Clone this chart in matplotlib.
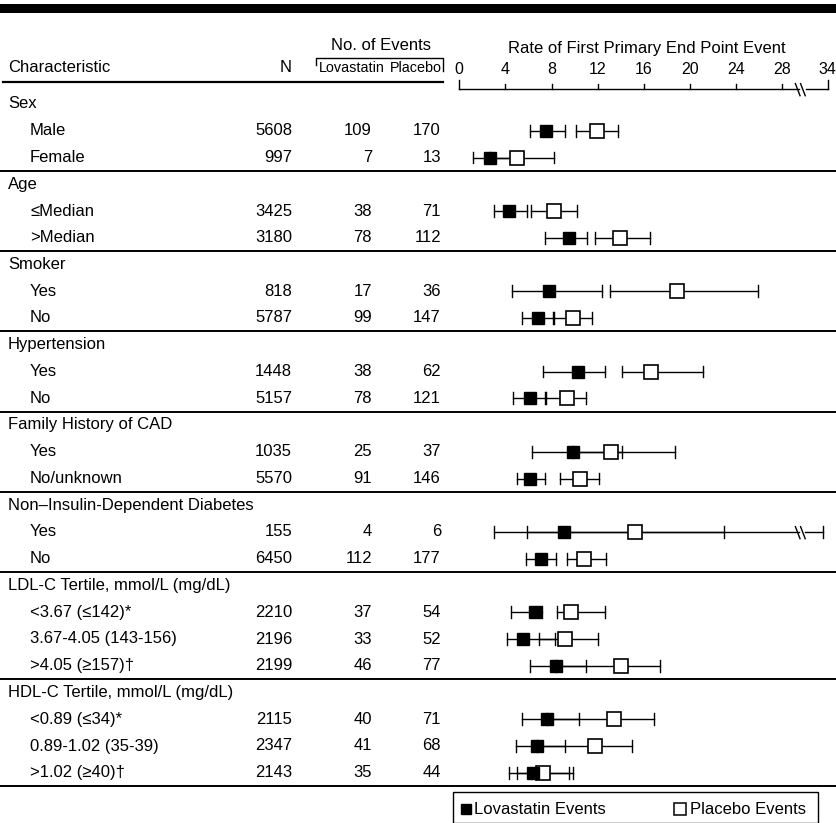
import numpy as np
import matplotlib
matplotlib.use('Agg')
import matplotlib.pyplot as plt
from matplotlib.patches import Rectangle

plt.rcParams['font.family'] = ['Liberation Sans', 'DejaVu Sans']

# Subgroup table: header rows have no numbers
groups = ['Sex', 'Age', 'Smoker', 'Hypertension', 'Family History of CAD',
          'Non\u2013Insulin-Dependent Diabetes',
          'LDL-C Tertile, mmol/L (mg/dL)', 'HDL-C Tertile, mmol/L (mg/dL)']
sublabels = [['Male', 'Female'],
             ['\u2264Median', '>Median'],
             ['Yes', 'No'],
             ['Yes', 'No'],
             ['Yes', 'No/unknown'],
             ['Yes', 'No'],
             ['<3.67 (\u2264142)*', '3.67-4.05 (143-156)', '>4.05 (\u2265157)\u2020'],
             ['<0.89 (\u226434)*', '0.89-1.02 (35-39)', '>1.02 (\u226540)\u2020']]
n_pts = [5608, 997, 3425, 3180, 818, 5787, 1448, 5157, 1035, 5570, 155, 6450,
         2210, 2196, 2199, 2115, 2347, 2143]
lov_events = [109, 7, 38, 78, 17, 99, 38, 78, 25, 91, 4, 112, 37, 33, 46, 40, 41, 35]
pla_events = [170, 13, 71, 112, 36, 147, 62, 121, 37, 146, 6, 177, 54, 52, 77, 71, 68, 44]

# event rates with lower / upper limits
lov_rate = [7.5, 2.7, 4.3, 9.5, 7.8, 6.8, 10.3, 6.1, 9.9, 6.1, 9.1, 7.1, 6.6, 5.5, 8.4, 7.6, 6.7, 6.4]
lov_lo = [6.1, 1.2, 3.0, 7.4, 4.6, 5.4, 7.3, 4.7, 6.3, 5.0, 3.0, 5.8, 4.5, 4.1, 6.1, 5.4, 4.9, 4.3]
lov_hi = [9.2, 5.5, 5.9, 11.1, 12.4, 8.2, 12.6, 7.5, 14.1, 7.4, 23.0, 8.4, 7.2, 8.3, 11.0, 10.4, 9.2, 9.5]
pla_rate = [11.9, 5.0, 8.2, 13.9, 18.9, 9.9, 16.6, 9.3, 13.2, 10.5, 15.2, 10.8, 9.7, 9.2, 14.0, 13.4, 11.8, 7.3]
pla_lo = [10.1, 2.7, 6.2, 11.8, 13.1, 8.1, 14.1, 7.4, 9.9, 8.7, 5.9, 9.3, 8.5, 6.9, 8.4, 7.6, 6.7, 5.0]
pla_hi = [13.8, 8.2, 10.2, 16.5, 25.9, 11.5, 21.1, 11.0, 18.7, 12.1, 33.2, 12.7, 12.6, 12.0, 17.4, 16.9, 15.0, 9.9]

ticks = [0, 4, 8, 12, 16, 20, 24, 28, 34]
brk = 29.7        # axis break position
squeeze = 0.526   # scale beyond the break


def xpos(v):
    v = np.asarray(v, dtype=float)
    return np.where(v <= brk, v, brk + (v - brk) * squeeze)


W, H = 836, 823
row0, drow = 104.0, 26.75


def yrow(py):
    return (py - row0) / drow


fig = plt.figure(figsize=(W / 100, H / 100), dpi=100)
tab = fig.add_axes([0, 0, 1, 1])
tab.set_xlim(0, W)
tab.set_ylim(yrow(H), yrow(0))
tab.axis('off')

px0, ppu = 459.3, 11.53
fx0, fx1 = 440, W
ax = fig.add_axes([fx0 / W, 0, (fx1 - fx0) / W, 1])
ax.set_xlim((fx0 - px0) / ppu, (fx1 - px0) / ppu)
ax.set_ylim(yrow(H), yrow(0))
ax.axis('off')

fs = 12
lw = 1.0

# heavy rule across the top
tab.fill_between([0, W], yrow(4), yrow(13), color='black', lw=0)

# column headers
tab.text(8, yrow(68), 'Characteristic', fontsize=fs, va='center', ha='left')
tab.text(292, yrow(68), 'N', fontsize=fs, va='center', ha='right')
tab.text(381, yrow(45), 'No. of Events', fontsize=fs, va='center', ha='center')
tab.text(319, yrow(68), 'Lovastatin', fontsize=10.4, va='center', ha='left')
tab.text(442, yrow(68), 'Placebo', fontsize=10.4, va='center', ha='right')
tab.plot([316, 316, 443, 443], [yrow(65), yrow(58), yrow(58), yrow(71)], color='black', lw=lw)
tab.plot([3, 443], [yrow(82), yrow(82)], color='black', lw=1.6)

# rate axis
ax.text(xpos(16.3), yrow(48), 'Rate of First Primary End Point Event', fontsize=fs,
        ha='center', va='center')
ay = yrow(89)
ax.plot([0, brk - 0.2], [ay, ay], color='black', lw=lw)
ax.plot([xpos(brk + 0.7), xpos(34)], [ay, ay], color='black', lw=lw)
for t in ticks:
    top = yrow(80) if t in (0, 34) else yrow(84)
    ax.plot([xpos(t), xpos(t)], [ay, top], color='black', lw=lw)
    ax.text(xpos(t), yrow(70), str(t), fontsize=fs - 0.5, ha='center', va='center')


def break_marks(y):
    for dx in (-0.35, 0.1):
        x = brk + dx
        ax.plot([x - 0.2, x + 0.2], [y - 0.2, y + 0.25], color='black', lw=lw)


break_marks(ay)

# table rows and intervals
cap = 0.22
sq = 9.5
row = 0
k = 0
for g, subs in zip(groups, sublabels):
    tab.text(8, row, g, fontsize=fs, va='center', ha='left')
    row += 1
    for s in subs:
        tab.text(30, row, s, fontsize=fs, va='center', ha='left')
        tab.text(292, row, str(n_pts[k]), fontsize=fs, va='center', ha='right')
        tab.text(372, row, str(lov_events[k]), fontsize=fs, va='center', ha='right')
        tab.text(441, row, str(pla_events[k]), fontsize=fs, va='center', ha='right')

        lo, hi = xpos(pla_lo[k]), xpos(pla_hi[k])
        if pla_hi[k] > brk:
            ax.plot([lo, brk - 0.2], [row, row], color='black', lw=lw)
            ax.plot([brk + 0.3, hi], [row, row], color='black', lw=lw)
            break_marks(row)
        else:
            ax.plot([lo, hi], [row, row], color='black', lw=lw)
        for e in (lo, hi):
            ax.plot([e, e], [row - cap, row + cap], color='black', lw=lw)
        a, b = xpos(lov_lo[k]), xpos(lov_hi[k])
        ax.plot([a, b], [row, row], color='black', lw=lw)
        for e in (a, b):
            ax.plot([e, e], [row - cap, row + cap], color='black', lw=lw)
        ax.plot(xpos(pla_rate[k]), row, marker='s', ms=sq, mfc='white', mec='black', mew=1.2)
        ax.plot(xpos(lov_rate[k]), row, marker='s', ms=sq - 1, mfc='black', mec='black')
        row += 1
        k += 1
    # rule under each group
    tab.plot([0, W], [row - 0.5, row - 0.5], color='black', lw=1.4)

# legend box
tab.add_patch(Rectangle((453, yrow(823)), 365, yrow(792) - yrow(823), fill=False,
                        ec='black', lw=lw))
tab.plot(466, yrow(809), marker='s', ms=7, color='black')
tab.text(474, yrow(809), 'Lovastatin Events', fontsize=fs, va='center', ha='left')
tab.plot(680, yrow(809), marker='s', ms=8, mfc='white', mec='black', mew=1.1)
tab.text(690, yrow(809), 'Placebo Events', fontsize=fs, va='center', ha='left')

fig.savefig('out.png', dpi=100)
